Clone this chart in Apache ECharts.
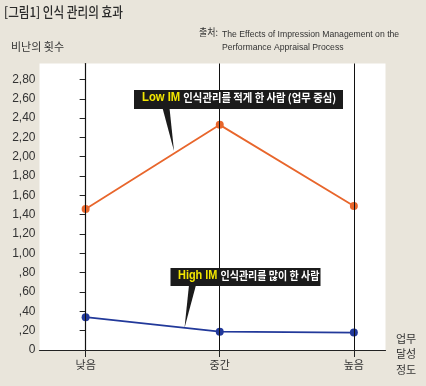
<!DOCTYPE html>
<html><head><meta charset="utf-8">
<script src="https://cdn.jsdelivr.net/npm/echarts@6/dist/echarts.min.js"></script>
<style>html,body{margin:0;padding:0;background:#e9e5db;}#c{width:426px;height:386px;}</style>
</head><body><div id="c"></div>
<script>
var categories = ['낮음', '중간', '높음'];
var lowIM = [1.46, 2.33, 1.49];
var highIM = [0.34, 0.19, 0.18];
var yTicks = [0, 0.2, 0.4, 0.6, 0.8, 1.0, 1.2, 1.4, 1.6, 1.8, 2.0, 2.2, 2.4, 2.6, 2.8];
var catIdx = categories.map(function (c, i) { return i; });

function pairs(arr) { return arr.map(function (v, i) { return [catIdx[i], v]; }); }
function fmtY(v) {
  if (Math.abs(v) < 1e-9) return '0';
  var s = v.toFixed(2).replace('.', ',');
  if (v < 1) s = s.replace(/^0/, '');
  return s;
}
var KR = '"Noto Sans CJK KR", sans-serif';
var NARROW = '"Liberation Sans Narrow", "Liberation Sans", sans-serif';

var chart = echarts.init(document.getElementById('c'), null, {renderer: 'canvas'});
chart.setOption({
  backgroundColor: '#e9e5db',
  animation: false,
  grid: {left: 39.5, right: 40.5, top: 63.5, bottom: 36, show: true, backgroundColor: '#ffffff', borderWidth: 0},
  xAxis: {
    type: 'value', min: -0.344, max: 2.236,
    axisLine: {show: true, onZero: false, lineStyle: {color: '#222', width: 1.2}},
    axisTick: {show: true, customValues: catIdx, length: 7, lineStyle: {color: '#222'}},
    axisLabel: {show: true, customValues: catIdx, formatter: function (v) { return categories[Math.round(v)]; },
      color: '#333', fontFamily: KR, fontSize: 11, margin: 9},
    splitLine: {show: false}
  },
  yAxis: {
    type: 'value', min: 0, max: 2.965,
    axisLine: {show: true, lineStyle: {color: '#222', width: 1.2}},
    axisTick: {show: true, customValues: yTicks, length: 6, lineStyle: {color: '#222'}},
    axisLabel: {show: true, customValues: yTicks, formatter: fmtY, color: '#333', fontFamily: NARROW, fontSize: 12, margin: 4},
    splitLine: {show: false}
  },
  series: [
    {type: 'line', data: [], z: 1, silent: true,
      markLine: {silent: true, symbol: ['none', 'none'], label: {show: false},
        lineStyle: {color: '#111', type: 'solid', width: 1},
        data: catIdx.map(function (i) { return {xAxis: i}; })}},
    {name: 'Low IM', type: 'line', data: pairs(lowIM), z: 3, symbol: 'circle', symbolSize: 8,
      itemStyle: {color: '#e8662c'}, lineStyle: {color: '#e8662c', width: 1.8}},
    {name: 'High IM', type: 'line', data: pairs(highIM), z: 3, symbol: 'circle', symbolSize: 8,
      itemStyle: {color: '#22399a'}, lineStyle: {color: '#22399a', width: 1.8}}
  ],
  graphic: [
    {type: 'text', x: 4, y: 5, scaleX: 0.86, style: {text: '[그림1] 인식 관리의 효과', fontFamily: KR, fontSize: 13.5, fontWeight: 500, fill: '#2a2a2a', verticalAlign: 'top'}},
    {type: 'text', x: 199, y: 27, scaleX: 0.9, style: {text: '출처:', fontFamily: KR, fontSize: 10, fill: '#333', verticalAlign: 'top'}},
    {type: 'text', x: 222, y: 28, scaleX: 0.91, style: {text: 'The Effects of Impression Management on the\nPerformance Appraisal Process', fontFamily: NARROW, fontSize: 9.5, lineHeight: 13, fill: '#333', verticalAlign: 'top'}},
    {type: 'text', left: 11, top: 41, style: {text: '비난의 횟수', fontFamily: KR, fontSize: 11, fill: '#333'}},
    {type: 'text', left: 396, top: 331, style: {text: '업무\n달성\n정도', fontFamily: KR, fontSize: 11, lineHeight: 15.5, fill: '#333'}},
    {type: 'polygon', z: 10, shape: {points: [[162.5, 108], [169.5, 108], [174, 151]]}, style: {fill: '#1b1b1b'}},
    {type: 'rect', z: 10, shape: {x: 134, y: 90, width: 209, height: 19}, style: {fill: '#1b1b1b'}},
    {type: 'text', z: 11, x: 142, y: 92, scaleX: 0.94, style: {
      text: '{y|Low IM} {w|인식관리를 적게 한 사람 (업무 중심)}', verticalAlign: 'top',
      rich: {y: {fill: '#f2e600', fontFamily: NARROW, fontWeight: 'bold', fontSize: 12},
             w: {fill: '#ffffff', fontFamily: KR, fontWeight: 'bold', fontSize: 11}}}},
    {type: 'polygon', z: 10, shape: {points: [[189, 285], [196, 285], [184.5, 328]]}, style: {fill: '#1b1b1b'}},
    {type: 'rect', z: 10, shape: {x: 170.5, y: 268, width: 150, height: 18}, style: {fill: '#1b1b1b'}},
    {type: 'text', z: 11, x: 178, y: 269.5, scaleX: 0.91, style: {
      text: '{y|High IM} {w|인식관리를 많이 한 사람}', verticalAlign: 'top',
      rich: {y: {fill: '#f2e600', fontFamily: NARROW, fontWeight: 'bold', fontSize: 12},
             w: {fill: '#ffffff', fontFamily: KR, fontWeight: 'bold', fontSize: 11}}}}
  ]
});
</script></body></html>
